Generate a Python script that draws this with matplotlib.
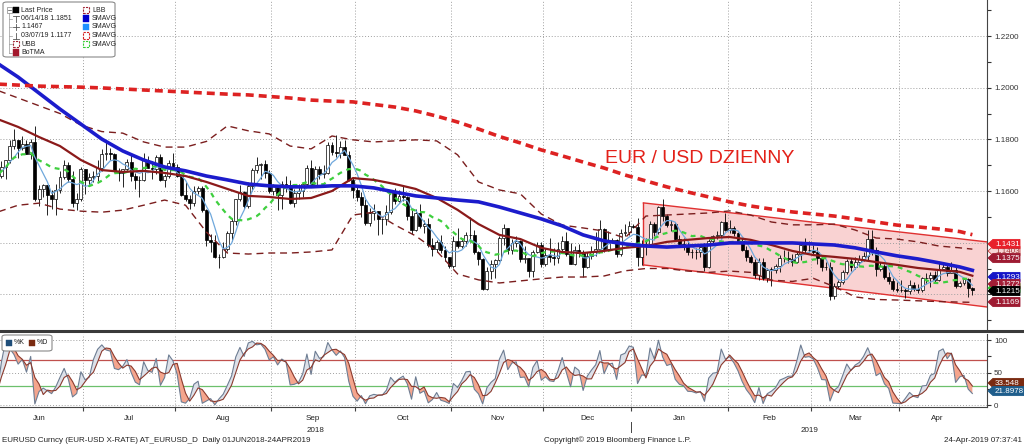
import numpy as np
import pandas as pd
import matplotlib
matplotlib.use('Agg')
import matplotlib.pyplot as plt
import matplotlib.transforms as mtransforms
from matplotlib.patches import Rectangle, Polygon, FancyBboxPatch
from matplotlib.lines import Line2D

plt.rcParams['font.family'] = ['Liberation Sans', 'DejaVu Sans']

# ---------------- data ----------------
days = pd.bdate_range('2018-06-01', '2019-04-24')   # one bar per weekday
first_open = 1.1692

close = [
    1.1660, 1.1693, 1.1719, 1.1776, 1.1797, 1.1768, 1.1782, 1.1744, 1.1791, 1.1568, 1.1608, 1.1624, 1.1585, 1.1570, 1.1605, 1.1655, 1.1702, 1.1645, 1.1552, 1.1570, 1.1684,
    1.1642, 1.1656, 1.1657, 1.1690, 1.1745, 1.1748, 1.1743, 1.1676, 1.1671, 1.1685, 1.1712, 1.1660, 1.1642, 1.1643, 1.1719, 1.1690, 1.1684, 1.1730, 1.1641, 1.1657, 1.1707, 1.1692,
    1.1657, 1.1584, 1.1568, 1.1553, 1.1600, 1.1610, 1.1527, 1.1410, 1.1404, 1.1343, 1.1345, 1.1377, 1.1438, 1.1482, 1.1569, 1.1598, 1.1542, 1.1621, 1.1682, 1.1701, 1.1706, 1.1671, 1.1601,
    1.1622, 1.1583, 1.1627, 1.1624, 1.1552, 1.1594, 1.1600, 1.1627, 1.1689, 1.1625, 1.1687, 1.1666, 1.1671, 1.1778, 1.1750, 1.1748, 1.1769, 1.1741, 1.1641, 1.1604,
    1.1578, 1.1547, 1.1478, 1.1514, 1.1522, 1.1490, 1.1491, 1.1520, 1.1595, 1.1560, 1.1580, 1.1576, 1.1503, 1.1449, 1.1514, 1.1466, 1.1473, 1.1392, 1.1374, 1.1403, 1.1371, 1.1345, 1.1310,
    1.1408, 1.1388, 1.1407, 1.1428, 1.1430, 1.1362, 1.1336, 1.1222, 1.1292, 1.1316, 1.1332, 1.1417, 1.1456, 1.1371, 1.1400, 1.1405, 1.1337, 1.1339, 1.1289, 1.1365, 1.1392, 1.1316,
    1.1353, 1.1343, 1.1342, 1.1376, 1.1406, 1.1355, 1.1317, 1.1370, 1.1361, 1.1307, 1.1347, 1.1363, 1.1377, 1.1451, 1.1374, 1.1405, 1.1409, 1.1355, 1.1436, 1.1442, 1.1466,
    1.1462, 1.1345, 1.1392, 1.1395, 1.1474, 1.1443, 1.1540, 1.1502, 1.1468, 1.1474, 1.1413, 1.1393, 1.1387, 1.1365, 1.1364, 1.1363, 1.1385, 1.1306, 1.1406, 1.1427, 1.1430, 1.1481, 1.1448,
    1.1456, 1.1436, 1.1408, 1.1371, 1.1343, 1.1324, 1.1275, 1.1327, 1.1262, 1.1296, 1.1295, 1.1310, 1.1342, 1.1339, 1.1337, 1.1327, 1.1357, 1.1391, 1.1370, 1.1372,
    1.1365, 1.1340, 1.1307, 1.1306, 1.1193, 1.1233, 1.1246, 1.1287, 1.1330, 1.1306, 1.1326, 1.1336, 1.1350, 1.1416, 1.1373, 1.1300, 1.1311, 1.1266, 1.1251, 1.1221, 1.1217,
    1.1215, 1.1212, 1.1236, 1.1220, 1.1215, 1.1262, 1.1264, 1.1276, 1.1254, 1.1300, 1.1305, 1.1284, 1.1296, 1.1233, 1.1245, 1.1258, 1.1224, 1.1215,
]
high = [
    1.1718, 1.1717, 1.1720, 1.1796, 1.1840, 1.1797, 1.1812, 1.1797, 1.1800, 1.1851, 1.1625, 1.1626, 1.1625, 1.1604, 1.1629, 1.1676, 1.1720, 1.1712, 1.1677, 1.1593, 1.1692,
    1.1685, 1.1670, 1.1676, 1.1720, 1.1764, 1.1791, 1.1768, 1.1746, 1.1689, 1.1686, 1.1722, 1.1745, 1.1671, 1.1660, 1.1746, 1.1736, 1.1718, 1.1738, 1.1743, 1.1667, 1.1719, 1.1747,
    1.1703, 1.1663, 1.1636, 1.1583, 1.1619, 1.1620, 1.1620, 1.1530, 1.1434, 1.1431, 1.1358, 1.1404, 1.1444, 1.1497, 1.1570, 1.1623, 1.1601, 1.1636, 1.1690, 1.1733, 1.1710, 1.1720, 1.1682,
    1.1626, 1.1625, 1.1640, 1.1660, 1.1644, 1.1608, 1.1626, 1.1636, 1.1700, 1.1720, 1.1696, 1.1697, 1.1700, 1.1788, 1.1790, 1.1815, 1.1794, 1.1797, 1.1755, 1.1651,
    1.1623, 1.1597, 1.1570, 1.1534, 1.1549, 1.1523, 1.1497, 1.1546, 1.1597, 1.1610, 1.1605, 1.1621, 1.1580, 1.1525, 1.1532, 1.1549, 1.1488, 1.1496, 1.1420, 1.1410, 1.1430, 1.1388, 1.1346,
    1.1425, 1.1456, 1.1420, 1.1440, 1.1500, 1.1450, 1.1368, 1.1340, 1.1305, 1.1331, 1.1335, 1.1424, 1.1473, 1.1457, 1.1415, 1.1425, 1.1409, 1.1387, 1.1339, 1.1371, 1.1402, 1.1401,
    1.1380, 1.1419, 1.1378, 1.1404, 1.1424, 1.1443, 1.1397, 1.1386, 1.1394, 1.1372, 1.1362, 1.1388, 1.1440, 1.1486, 1.1455, 1.1446, 1.1420, 1.1416, 1.1451, 1.1474, 1.1484,
    1.1474, 1.1497, 1.1412, 1.1420, 1.1484, 1.1480, 1.1541, 1.1570, 1.1512, 1.1487, 1.1479, 1.1430, 1.1420, 1.1406, 1.1375, 1.1380, 1.1396, 1.1397, 1.1415, 1.1428, 1.1446, 1.1485, 1.1514,
    1.1488, 1.1466, 1.1442, 1.1419, 1.1387, 1.1352, 1.1335, 1.1340, 1.1342, 1.1303, 1.1307, 1.1318, 1.1354, 1.1372, 1.1368, 1.1358, 1.1367, 1.1404, 1.1419, 1.1408,
    1.1390, 1.1384, 1.1343, 1.1327, 1.1324, 1.1244, 1.1257, 1.1296, 1.1338, 1.1339, 1.1344, 1.1352, 1.1362, 1.1448, 1.1448, 1.1384, 1.1327, 1.1318, 1.1286, 1.1265, 1.1248,
    1.1255, 1.1225, 1.1255, 1.1247, 1.1241, 1.1269, 1.1283, 1.1287, 1.1289, 1.1324, 1.1323, 1.1314, 1.1324, 1.1307, 1.1252, 1.1263, 1.1263, 1.1229,
]
low = [
    1.1645, 1.1650, 1.1645, 1.1707, 1.1762, 1.1726, 1.1758, 1.1744, 1.1724, 1.1562, 1.1543, 1.1576, 1.1509, 1.1529, 1.1508, 1.1592, 1.1645, 1.1636, 1.1540, 1.1527, 1.1560,
    1.1590, 1.1620, 1.1633, 1.1640, 1.1678, 1.1720, 1.1719, 1.1675, 1.1640, 1.1616, 1.1678, 1.1640, 1.1609, 1.1575, 1.1640, 1.1690, 1.1647, 1.1664, 1.1640, 1.1617, 1.1651, 1.1688,
    1.1654, 1.1580, 1.1562, 1.1530, 1.1543, 1.1590, 1.1520, 1.1386, 1.1365, 1.1340, 1.1301, 1.1340, 1.1369, 1.1408, 1.1470, 1.1563, 1.1530, 1.1535, 1.1600, 1.1671, 1.1645, 1.1650, 1.1591,
    1.1583, 1.1528, 1.1530, 1.1595, 1.1549, 1.1540, 1.1570, 1.1575, 1.1615, 1.1619, 1.1620, 1.1645, 1.1652, 1.1665, 1.1740, 1.1733, 1.1727, 1.1738, 1.1640, 1.1571,
    1.1562, 1.1500, 1.1470, 1.1463, 1.1488, 1.1431, 1.1433, 1.1470, 1.1510, 1.1551, 1.1556, 1.1562, 1.1487, 1.1433, 1.1447, 1.1458, 1.1439, 1.1383, 1.1350, 1.1363, 1.1361, 1.1328, 1.1301,
    1.1302, 1.1378, 1.1380, 1.1388, 1.1402, 1.1358, 1.1315, 1.1216, 1.1218, 1.1260, 1.1265, 1.1330, 1.1392, 1.1358, 1.1358, 1.1382, 1.1324, 1.1321, 1.1267, 1.1269, 1.1361, 1.1305,
    1.1310, 1.1327, 1.1314, 1.1321, 1.1368, 1.1350, 1.1316, 1.1312, 1.1345, 1.1269, 1.1301, 1.1335, 1.1350, 1.1366, 1.1362, 1.1369, 1.1400, 1.1345, 1.1350, 1.1425, 1.1429,
    1.1455, 1.1309, 1.1315, 1.1354, 1.1390, 1.1424, 1.1434, 1.1485, 1.1460, 1.1445, 1.1412, 1.1390, 1.1370, 1.1352, 1.1340, 1.1335, 1.1343, 1.1289, 1.1301, 1.1390, 1.1414, 1.1420, 1.1447,
    1.1439, 1.1424, 1.1399, 1.1366, 1.1329, 1.1321, 1.1265, 1.1257, 1.1255, 1.1249, 1.1234, 1.1281, 1.1286, 1.1325, 1.1323, 1.1309, 1.1321, 1.1333, 1.1359, 1.1363,
    1.1353, 1.1318, 1.1290, 1.1293, 1.1177, 1.1182, 1.1223, 1.1241, 1.1277, 1.1292, 1.1298, 1.1314, 1.1328, 1.1329, 1.1353, 1.1270, 1.1289, 1.1260, 1.1241, 1.1213, 1.1210,
    1.1209, 1.1184, 1.1202, 1.1211, 1.1205, 1.1210, 1.1241, 1.1228, 1.1249, 1.1251, 1.1293, 1.1270, 1.1281, 1.1226, 1.1228, 1.1236, 1.1191, 1.1199,
]

week_idx = list(range(0, 234, 5)) + [233]
sma200 = [1.2014, 1.2010, 1.2006, 1.2004, 1.2002, 1.1999, 1.1995, 1.1991, 1.1987, 1.1983, 1.1979, 1.1975,
          1.1972, 1.1966, 1.1960, 1.1952, 1.1948, 1.1945, 1.1935, 1.1925, 1.1910, 1.1890, 1.1867, 1.1840,
          1.1811, 1.1786, 1.1759, 1.1736, 1.1712, 1.1689, 1.1662, 1.1639, 1.1616, 1.1596, 1.1577, 1.1558,
          1.1542, 1.1530, 1.1519, 1.1511, 1.1503, 1.1492, 1.1480, 1.1468, 1.1461, 1.1453, 1.1443, 1.1431]
sma50 = [1.2095, 1.2041, 1.1979, 1.1917, 1.1859, 1.1801, 1.1755, 1.1720, 1.1693, 1.1678, 1.1658, 1.1643,
         1.1627, 1.1620, 1.1616, 1.1616, 1.1620, 1.1620, 1.1612, 1.1596, 1.1581, 1.1573, 1.1565, 1.1558,
         1.1538, 1.1515, 1.1492, 1.1465, 1.1430, 1.1407, 1.1395, 1.1387, 1.1383, 1.1387, 1.1391, 1.1399,
         1.1399, 1.1399, 1.1399, 1.1395, 1.1391, 1.1380, 1.1364, 1.1349, 1.1337, 1.1322, 1.1306, 1.1293]
sma30 = [1.1879, 1.1848, 1.1809, 1.1774, 1.1720, 1.1681, 1.1674, 1.1678, 1.1670, 1.1658, 1.1635, 1.1608,
         1.1581, 1.1577, 1.1569, 1.1573, 1.1600, 1.1650, 1.1643, 1.1627, 1.1608, 1.1573, 1.1527, 1.1472,
         1.1430, 1.1414, 1.1380, 1.1364, 1.1360, 1.1368, 1.1380, 1.1387, 1.1403, 1.1411, 1.1418, 1.1422,
         1.1411, 1.1391, 1.1368, 1.1352, 1.1345, 1.1337, 1.1325, 1.1314, 1.1302, 1.1294, 1.1287, 1.1272]
ubb = [1.1990, 1.1960, 1.1930, 1.1900, 1.1855, 1.1830, 1.1824, 1.1790, 1.1770, 1.1770, 1.1792, 1.1852,
       1.1833, 1.1821, 1.1774, 1.1763, 1.1813, 1.1798, 1.1790, 1.1794, 1.1798, 1.1794, 1.1740, 1.1635,
       1.1604, 1.1589, 1.1511, 1.1468, 1.1457, 1.1445, 1.1418, 1.1503, 1.1507, 1.1511, 1.1515, 1.1523,
       1.1507, 1.1480, 1.1469, 1.1469, 1.1472, 1.1449, 1.1418, 1.1414, 1.1403, 1.1387, 1.1380, 1.1375]
lbb = [1.1518, 1.1545, 1.1553, 1.1530, 1.1522, 1.1518, 1.1526, 1.1545, 1.1565, 1.1545, 1.1441, 1.1360,
       1.1356, 1.1360, 1.1360, 1.1364, 1.1372, 1.1507, 1.1518, 1.1469, 1.1426, 1.1368, 1.1279, 1.1256,
       1.1244, 1.1252, 1.1260, 1.1267, 1.1267, 1.1271, 1.1291, 1.1300, 1.1300, 1.1290, 1.1285, 1.1290,
       1.1285, 1.1255, 1.1250, 1.1262, 1.1230, 1.1190, 1.1180, 1.1178, 1.1175, 1.1172, 1.1170, 1.1169]

# hand-drawn down channel
channel_idx = [154.4, 236.5]
channel_top = [1.1554, 1.1403]
channel_bot = [1.1314, 1.1151]

legend_avg = 1.1467
stoch_k_last = 21.8978
stoch_d_last = 33.548

# ---------------- helpers ----------------
W, H = 1024, 446


def fx(px):
    return px / W


def fy(py):
    return 1 - py / H


fig = plt.figure(figsize=(10.24, 4.46), dpi=100)
ax = fig.add_axes([0, fy(329), fx(987), fy(0) - fy(329)])
ax2 = fig.add_axes([0, fy(407), fx(987), fy(334) - fy(407)])

n = len(close)
x = np.arange(n)
c = np.array(close)
hi = np.array(high)
lo = np.array(low)
op = np.r_[first_open, c[:-1]]

GRID = dict(color='#a0a0a0', lw=0.7, ls=(0, (1, 2)), zorder=0.5)
bounds = [i - 0.5 for i in range(1, n) if days[i].month != days[i - 1].month]

for a in (ax, ax2):
    a.set_xlim(0.67, 236.5)
    a.spines['left'].set_visible(False)
    a.spines['top'].set_visible(False)
    a.spines['right'].set_color('#444444')
    a.yaxis.tick_right()
    for b in bounds:
        a.axvline(b, **GRID)
ax.spines['bottom'].set_visible(False)
ax2.spines['bottom'].set_color('#444444')

# ---------------- main panel ----------------
ax.set_ylim(1.10658, 1.23394)
for v in np.arange(1.12, 1.2201, 0.02):
    ax.axhline(v, **GRID)
yt = np.round(np.arange(1.11, 1.2301, 0.01), 2)
ax.set_yticks(yt)
ax.set_yticklabels(['%.4f' % v if (v >= 1.155 and round(v * 100) % 2 == 0) else '' for v in yt])
ax.tick_params(axis='y', direction='out', length=3, width=0.8, colors='#333333', labelsize=5.8, pad=2)
ax.tick_params(axis='x', bottom=False, labelbottom=False)

# channel
ax.add_patch(Polygon([(channel_idx[0], channel_top[0]), (channel_idx[1], channel_top[1]),
                      (channel_idx[1], channel_bot[1]), (channel_idx[0], channel_bot[0])],
                     closed=True, fc='#f7c4c4', alpha=0.75, ec='none', zorder=0.3))
ax.plot(channel_idx, channel_top, color='#e03131', lw=1.0, zorder=2)
ax.plot(channel_idx, channel_bot, color='#e03131', lw=1.0, zorder=2)
ax.plot([channel_idx[0]] * 2, [channel_bot[0], channel_top[0]], color='#e03131', lw=1.0, zorder=2)

# candles
up = c >= op
ax.vlines(x, lo, hi, color='black', lw=0.6, zorder=3)
body_bot = np.minimum(op, c)
body_h = np.maximum(np.abs(c - op), 0.00012)
ax.bar(x[up], body_h[up], bottom=body_bot[up], width=0.7, color='white', edgecolor='black', lw=0.5, zorder=4)
ax.bar(x[~up], body_h[~up], bottom=body_bot[~up], width=0.7, color='black', edgecolor='black', lw=0.5, zorder=4)

sma5 = pd.Series(c).rolling(5, min_periods=1).mean()
sma14 = pd.Series(c).rolling(14, min_periods=1).mean()
ax.plot(week_idx, ubb, color='#7b1e1e', lw=1.0, ls=(0, (5, 3.5)), zorder=5)
ax.plot(week_idx, lbb, color='#7b1e1e', lw=1.0, ls=(0, (5, 3.5)), zorder=5)
ax.plot(x, sma5, color='#6fa8dc', lw=0.9, zorder=5)
ax.plot(x, sma14, color='#3fcf3f', lw=1.6, ls=(0, (2.2, 2.2)), zorder=5)
ax.plot(week_idx, sma30, color='#8b1a1a', lw=1.6, zorder=6)
ax.plot(week_idx, sma50, color='#1c1ccc', lw=2.6, zorder=6)
ax.plot(week_idx, sma200, color='#dd2222', lw=2.6, ls=(0, (2.2, 1.4)), zorder=6)

fig.text(fx(605), fy(163), 'EUR / USD DZIENNY', color='#e32119', fontsize=14, va='baseline')

# ---------------- stochastic panel ----------------
hh = pd.Series(hi).rolling(14, min_periods=1).max()
ll = pd.Series(lo).rolling(14, min_periods=1).min()
pk = (100 * (c - ll) / (hh - ll)).values
pdd = pd.Series(pk).rolling(3, min_periods=1).mean().values

ax2.set_ylim(-2.6, 109.2)
for v in (0, 50, 100):
    ax2.axhline(v, **GRID)
ax2.axhline(70, color='#c0504d', lw=0.9, zorder=1)
ax2.axhline(30, color='#6cc06c', lw=0.9, zorder=1)
ax2.fill_between(x, pk, pdd, where=pk >= pdd, interpolate=True, color='#dde1e9', lw=0, zorder=2)
ax2.fill_between(x, pk, pdd, where=pk < pdd, interpolate=True, color='#f5a58d', lw=0, zorder=2)
ax2.plot(x, pk, color='#6d7d93', lw=0.8, zorder=3)
ax2.plot(x, pdd, color='#8b3a2e', lw=0.8, zorder=3)
ax2.set_yticks([0, 25, 50, 75, 100])
ax2.set_yticklabels(['0', '', '50', '', '100'])
ax2.tick_params(axis='y', direction='out', length=3, width=0.8, colors='#333333', labelsize=5.8, pad=2)

ax2.set_xticks(bounds)
ax2.set_xticklabels([])
ax2.tick_params(axis='x', which='major', direction='out', length=3, width=0.8, colors='#444444')
starts = [0] + [int(b + 0.5) for b in bounds]
ends = [int(b - 0.5) for b in bounds] + [n - 1]
centers = [(s + e) / 2 for s, e in zip(starts, ends)]
ax2.set_xticks(centers, minor=True)
ax2.set_xticklabels([days[s].strftime('%b') for s in starts], minor=True)
ax2.tick_params(axis='x', which='minor', length=0, labelsize=5.8, labelcolor='#222222', pad=6)

# year labels under the month labels
ytr = mtransforms.blended_transform_factory(ax2.transData, fig.transFigure)
year_split = [b for b in bounds if days[int(b + 0.5)].year != days[int(b - 0.5)].year][0]
xl = ax2.get_xlim()
ax2.text((xl[0] + year_split) / 2, fy(430), '2018', transform=ytr, ha='center', va='center', fontsize=5.8, color='#222222')
ax2.text((year_split + xl[1]) / 2, fy(430), '2019', transform=ytr, ha='center', va='center', fontsize=5.8, color='#222222')
fig.add_artist(Line2D([year_split, year_split], [fy(422), fy(432)], transform=ytr, color='#444444', lw=0.7))

# separator between panels
fig.add_artist(Line2D([0, 1], [fy(331), fy(331)], color='#3a3a3a', lw=2.2))

# ---------------- right side value tags ----------------
def tag(py, s, fc, ec=None, tc='white', right=1024):
    pts = [(988, py), (993, py - 4.6), (right, py - 4.6), (right, py + 4.6), (993, py + 4.6)]
    fig.add_artist(Polygon([(fx(a), fy(b)) for a, b in pts], closed=True, transform=fig.transFigure,
                           fc=fc, ec=ec or fc, lw=0.6))
    if s:
        fig.text(fx(995), fy(py + 0.3), s, color=tc, fontsize=5.8, va='center', ha='left')


# tags that sit behind others first
tag(251, '%.4f' % channel_top[1], '#f6d6d6', ec='#c83a3a', tc='#a33a3a', right=1020)
tag(277, '%.4f' % sma50[-1], '#1515c8', right=1020)
tag(288, '', '#33cc33', right=1020)
tag(244, '%.4f' % sma200[-1], '#e8202a', right=1020)
tag(258, '%.4f' % ubb[-1], '#9e1b32', right=1020)
tag(284, '%.4f' % sma30[-1], '#a31d36', right=1020)
tag(291, '%.4f' % close[-1], '#000000', right=1020)
tag(302, '%.4f' % lbb[-1], '#9e1b32', right=1020)

tag(383, '%.3f' % stoch_d_last, '#7a2a10')
tag(391, '%.4f' % stoch_k_last, '#1f5e8c')

# ---------------- legend (top left) ----------------
fig.add_artist(FancyBboxPatch((fx(3), fy(57)), fx(112), 55 / H, transform=fig.transFigure,
                              boxstyle='round,pad=0,rounding_size=0.004', fc='white', ec='#8a8a8a', lw=0.8))
rows = [10, 18.5, 27, 35.5, 44, 52.5]
LFS = 5


def sq(px, py, col):
    fig.add_artist(Rectangle((fx(px), fy(py + 3)), 6 / W, 6 / H, transform=fig.transFigure, fc=col, ec=col, lw=0.3))


def bracket(px, py, col):
    fig.add_artist(Rectangle((fx(px), fy(py + 3)), 6 / W, 6 / H, transform=fig.transFigure, fc='none',
                             ec=col, lw=0.8, ls=(0, (2, 1))))


def fline(xs, ys, col='#555555', lw=0.6):
    fig.add_artist(Line2D([fx(v) for v in xs], [fy(v) for v in ys], color=col, lw=lw))


# tree lines and collapse box
fline([9, 9], [13, rows[5]], col='#999999', lw=0.5)
for r in rows[1:]:
    fline([9, 12], [r, r], col='#999999', lw=0.5)
fig.add_artist(Rectangle((fx(6.5), fy(rows[0] + 2.5)), 5 / W, 5 / H, transform=fig.transFigure, fc='white', ec='#888888', lw=0.5))
fline([7.5, 10.5], [rows[0], rows[0]], col='#444444', lw=0.5)

ihi = int(np.argmax(hi))
ilo = int(np.argmin(lo))
sq(13, rows[0], '#000000')
fig.text(fx(21), fy(rows[0]), 'Last Price', fontsize=LFS, va='center', color='#222222')
fline([13, 19], [rows[1] - 3, rows[1] - 3])
fline([16, 16], [rows[1] - 3, rows[1] + 3])
fig.text(fx(21), fy(rows[1]), '%s %.4f' % (days[ihi].strftime('%m/%d/%y'), hi[ihi]), fontsize=LFS, va='center', color='#222222')
fline([13, 19], [rows[2], rows[2]])
fline([16, 16], [rows[2] - 3, rows[2] + 3])
fig.text(fx(21), fy(rows[2]), '%.4f' % legend_avg, fontsize=LFS, va='center', color='#222222')
fline([13, 19], [rows[3] + 3, rows[3] + 3])
fline([16, 16], [rows[3] - 3, rows[3] + 3])
fig.text(fx(21), fy(rows[3]), '%s %.4f' % (days[ilo].strftime('%m/%d/%y'), lo[ilo]), fontsize=LFS, va='center', color='#222222')
bracket(13, rows[4], '#a02030')
fig.text(fx(21), fy(rows[4]), 'UBB', fontsize=LFS, va='center', color='#222222')
sq(13, rows[5], '#a3182c')
fig.text(fx(21), fy(rows[5]), 'BoTMA', fontsize=LFS, va='center', color='#222222')

right_items = [('LBB', 'b', '#a02030'), ('SMAVG', 's', '#0000cd'), ('SMAVG', 's', '#1e90ff'),
               ('SMAVG', 'b', '#d42020'), ('SMAVG', 'b', '#33cc33')]
for r, (lab, kind, col) in zip(rows, right_items):
    (sq if kind == 's' else bracket)(83, r, col)
    fig.text(fx(92), fy(r), lab, fontsize=LFS, va='center', color='#222222')

# stochastic legend
fig.add_artist(FancyBboxPatch((fx(2), fy(351)), fx(50), 16 / H, transform=fig.transFigure,
                              boxstyle='round,pad=0,rounding_size=0.004', fc='white', ec='#8a8a8a', lw=0.8))
sq(6, 343, '#1f4e79')
fig.text(fx(14), fy(343), '%K', fontsize=LFS, va='center', color='#222222')
sq(29, 343, '#7a2a10')
fig.text(fx(37), fy(343), '%D', fontsize=LFS, va='center', color='#222222')

# ---------------- footer ----------------
fig.text(fx(2), fy(440), 'EURUSD Curncy (EUR-USD X-RATE) AT_EURUSD_D  Daily 01JUN2018-24APR2019',
         fontsize=5.8, va='center', color='#222222')
fig.text(fx(618), fy(440), 'Copyright\u00a9 2019 Bloomberg Finance L.P.', fontsize=5.8, va='center', ha='center', color='#222222')
fig.text(fx(1022), fy(440), '24-Apr-2019 07:37:41', fontsize=5.8, va='center', ha='right', color='#222222')

fig.savefig('out.png', dpi=100)
